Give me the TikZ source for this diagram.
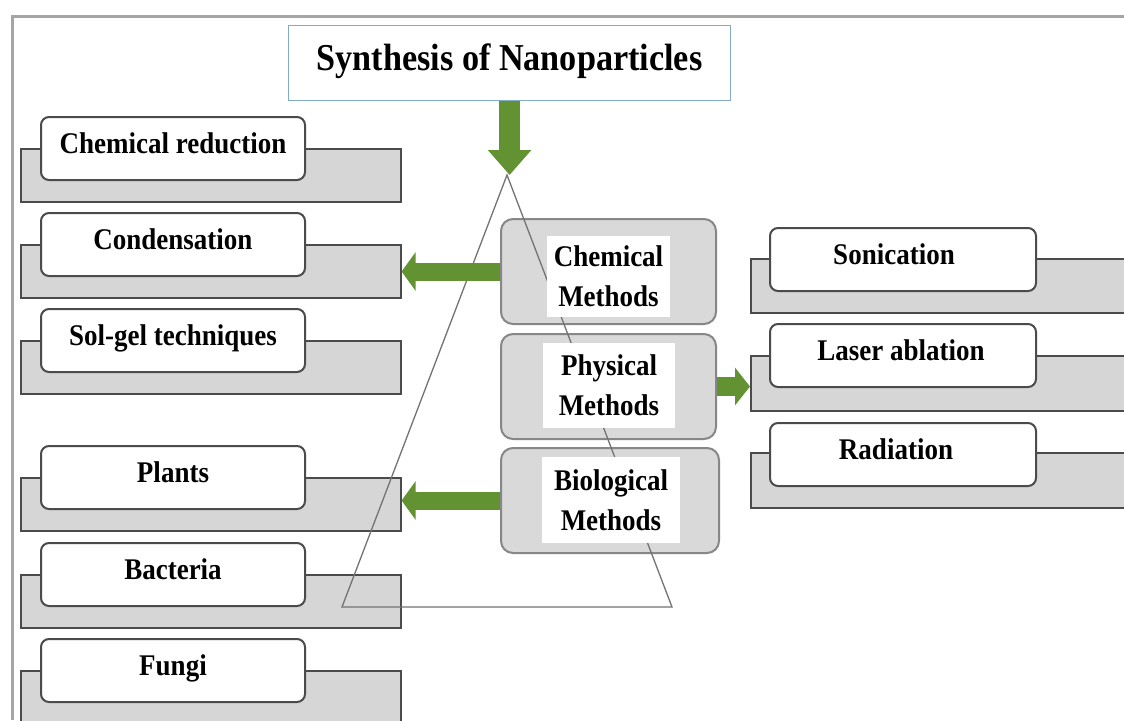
\documentclass[tikz,border=0pt]{standalone}
\usepackage{fontspec}
\setmainfont{Liberation Serif}[FakeStretch=0.9]
\usetikzlibrary{arrows.meta}
\definecolor{arrowgreen}{RGB}{98,146,50}
\definecolor{backgray}{RGB}{214,214,214}
\definecolor{edgegray}{RGB}{75,75,75}
\definecolor{methodgray}{RGB}{217,217,217}
\definecolor{methodedge}{RGB}{135,135,135}
\definecolor{framegray}{RGB}{165,165,165}
\definecolor{titleedge}{RGB}{130,170,205}
\definecolor{trigray}{RGB}{115,115,115}
\newcommand\itemfont{\fontsize{30}{40}\selectfont\bfseries}
\newcommand\titlefont{\fontsize{38}{44}\selectfont\bfseries}
\begin{document}
\begin{tikzpicture}[x=1pt,y=-1pt,
  backbox/.style={draw=edgegray, fill=backgray, line width=1.6pt, minimum width=380pt, minimum height=53pt, inner sep=0pt, anchor=north west},
  itembox/.style={draw=edgegray, fill=white, line width=2pt, rounded corners=8pt, minimum width=264pt, minimum height=63pt, inner sep=0pt, anchor=north west, font=\itemfont, text height=20pt, text depth=10pt},
  methodbox/.style={draw=methodedge, fill=methodgray, line width=2pt, rounded corners=12pt, minimum width=215pt, minimum height=105pt, inner sep=0pt, anchor=north west},
  methodtext/.style={fill=white, align=center, font=\itemfont, inner sep=0pt},
  titlebox/.style={draw=titleedge, fill=white, line width=1.2pt, minimum width=442pt, minimum height=75pt, inner sep=0pt, anchor=north west, font=\titlefont, text height=26pt, text depth=12pt},
  triline/.style={draw=trigray, line width=1.3pt},
  framebar/.style={draw=framegray, line width=3pt},
  bigarrow/.style={draw=arrowgreen, line width=18pt, -{Triangle[width=38pt,length=14pt]}},
  downarrow/.style={draw=arrowgreen, line width=21pt, -{Triangle[width=42pt,length=25pt]}}
]
\useasboundingbox (0,0) rectangle (1124,720);
\fill[white] (0,0) rectangle (1124,720);
% frame
\draw[framebar] (12,720) -- (12,16) -- (1124,16);
% title
\node[titlebox] (title) at (288,25) {Synthesis of Nanoparticles};
% left back boxes
\node[backbox] (redback) at (20,148) {};
\node[backbox] (condback) at (20,244) {};
\node[backbox] (solback) at (20,340) {};
\node[backbox] (plantback) at (20,477) {};
\node[backbox] (bactback) at (20,574) {};
\node[backbox] (fungback) at (20,670) {};
% right back boxes
\node[backbox, minimum height=54pt] (sonback) at (750,258) {};
\node[backbox, minimum height=55pt] (laserback) at (750,355) {};
\node[backbox, minimum height=55pt] (radback) at (750,452) {};
% method boxes
\node[methodbox] (chem) at (500,218) {};
\node[methodbox] (phys) at (500,333) {};
\node[methodbox, minimum width=218pt] (bio) at (500,447) {};
% triangle
\coordinate (apex) at (507,175);
\coordinate (tbl) at (342,607);
\coordinate (tbr) at (672,607);
\draw[triline] (apex) -- (tbl) -- (tbr) -- cycle;
% left item boxes
\node[itembox] (red) at (40,116) {Chemical reduction};
\node[itembox] (cond) at (40,212) {Condensation};
\node[itembox] (sol) at (40,308) {Sol-gel techniques};
\node[itembox] (plant) at (40,445) {Plants};
\node[itembox] (bact) at (40,542) {Bacteria};
\node[itembox] (fung) at (40,638) {Fungi};
% right item boxes
\node[itembox, minimum width=266pt] (son) at (769,227) {Sonication\hspace*{18pt}};
\node[itembox, minimum width=266pt] (laser) at (769,323) {Laser ablation\hspace*{4pt}};
\node[itembox, minimum width=266pt] (rad) at (769,422) {Radiation\hspace*{14pt}};
% method texts
\node[methodtext, minimum width=123pt, minimum height=81pt] (chemtext) at (608.5,276.5) {Chemical\\Methods};
\node[methodtext, minimum width=132pt, minimum height=85pt] (phystext) at (609,385.5) {Physical\\Methods};
\node[methodtext, minimum width=138pt, minimum height=86pt] (biotext) at (611,500) {Biological\\Methods};
% arrows
\draw[downarrow] (title.south) -- (title.south |- apex);
\draw[bigarrow] (chem.west) -- (chem.west -| condback.east);
\draw[bigarrow] (bio.west) -- (bio.west -| plantback.east);
\draw[bigarrow, line width=19pt, -{Triangle[width=37pt,length=15pt]}] (phys.east) -- (phys.east -| laserback.west);
\end{tikzpicture}
\end{document}
